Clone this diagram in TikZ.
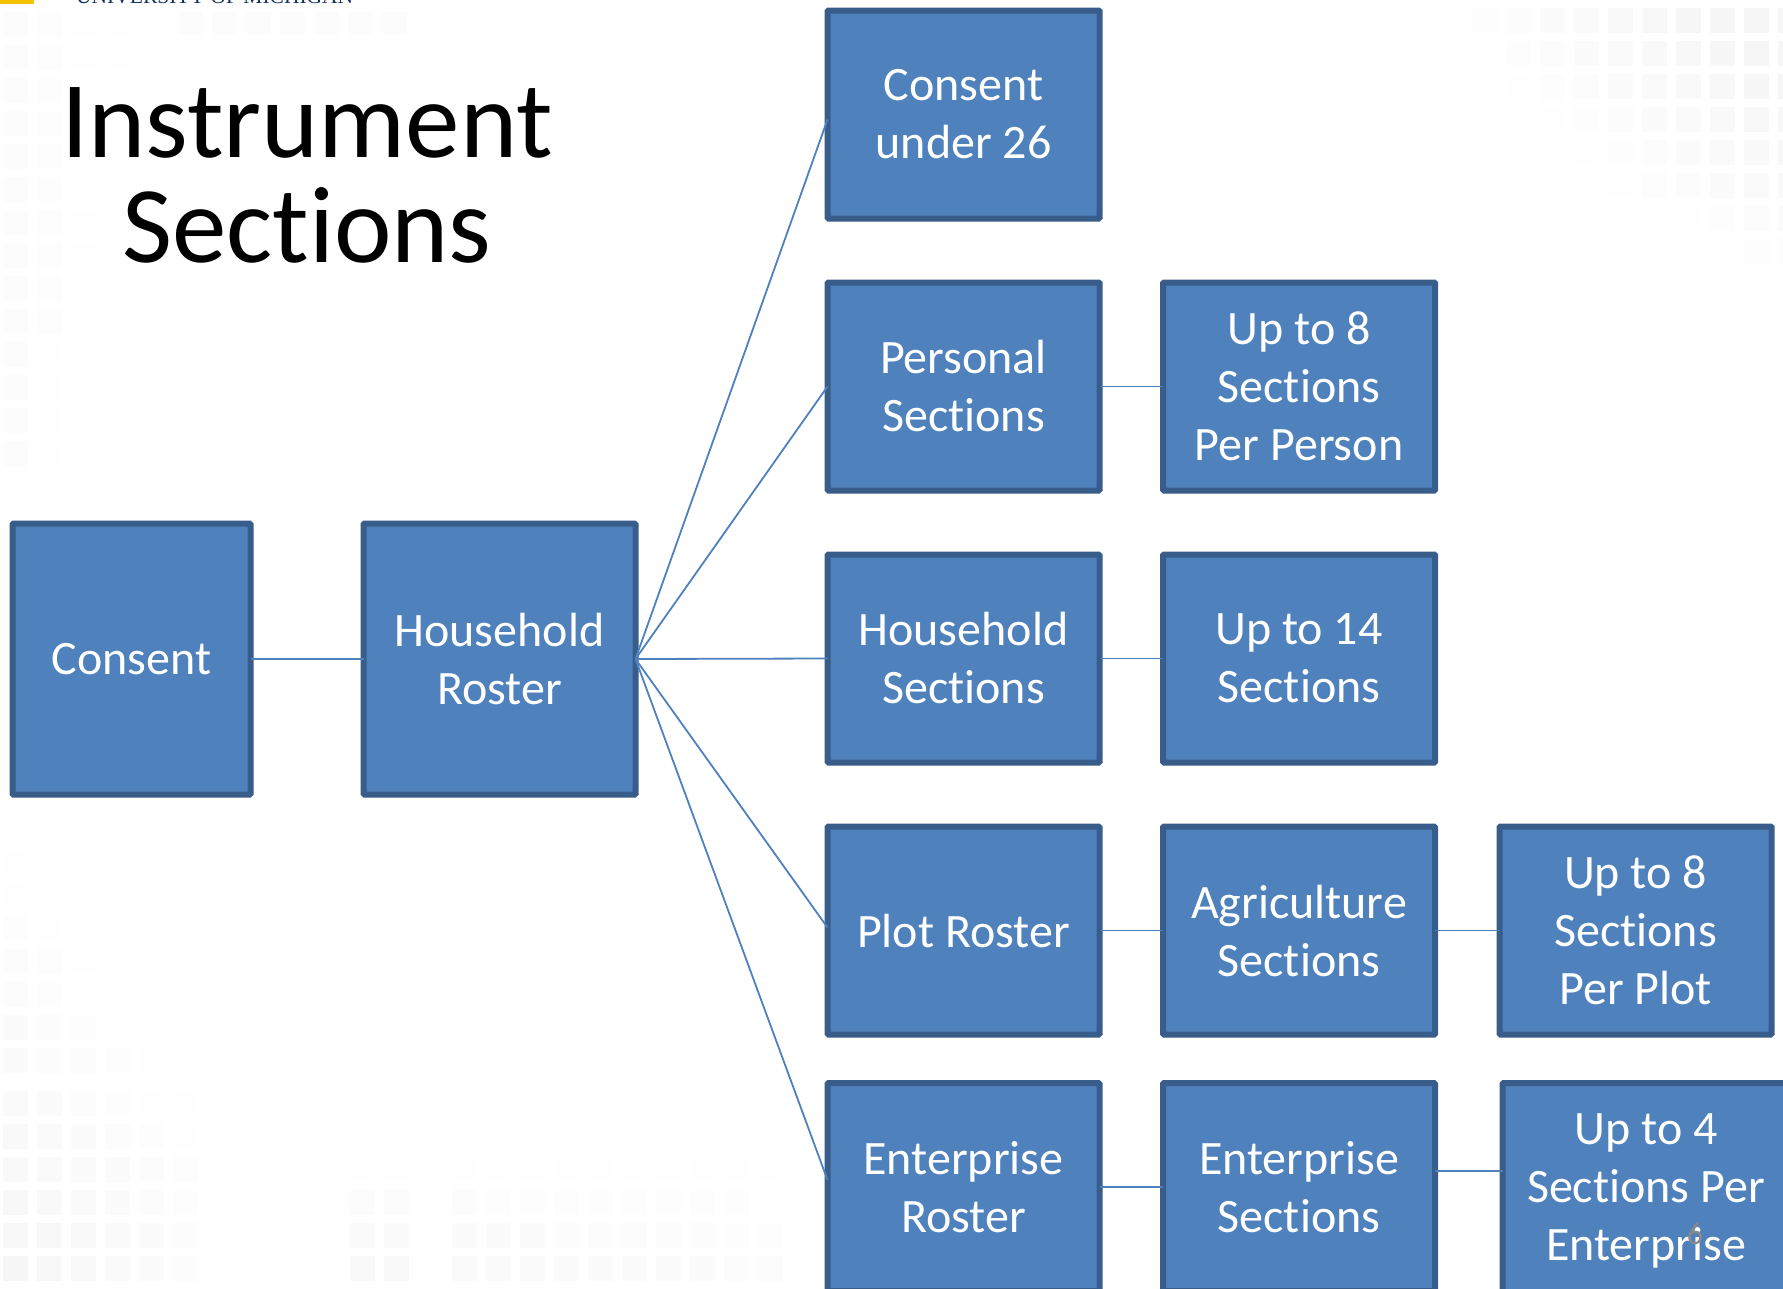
\documentclass[tikz,border=0pt]{standalone}
\usepackage{fontspec}
\setmainfont[Ligatures=NoCommon]{Carlito}
\newfontfamily\umfont{Liberation Serif}
\definecolor{boxfill}{HTML}{4F81BD}
\definecolor{boxedge}{HTML}{385D8A}
\definecolor{umblue}{HTML}{14305C}
\definecolor{umgold}{HTML}{F5C400}
\definecolor{numgrey}{HTML}{898989}
\tikzset{
  box/.style={draw=boxedge,fill=boxfill,line width=6pt,rounded corners=1pt,text=white,align=center,
    inner sep=0pt,outer sep=0pt,minimum width=#1,minimum height=208pt,font=\fontsize{48}{58}\selectfont},
  box/.default=272pt,
  link/.style={draw=boxfill,line width=1.8pt},
  cell/.style={fill=black,draw=none},
  titletext/.style={align=center,text=black,font=\fontsize{109}{105}\selectfont}
}
\begin{document}
\begin{tikzpicture}[x=1pt,y=-1pt]
\useasboundingbox (0,0) rectangle (1783,1288);
\clip (0,0) rectangle (1783,1288);
\fill[white] (0,0) rectangle (1783,1288);
% faint background pattern: top right, fading towards the slide centre
\foreach \x in {1370,1404,...,1780}{\foreach \y in {8,41,74,107,140,173,206,239}{
  \pgfmathsetmacro{\op}{max(0,min(.035,.035*(\x-1400-1.1*\y)/300))}
  \fill[cell,opacity=\op] (\x,\y) rectangle +(25,25);}}
% left edge, upper part
\foreach \x in {3,37,71,105}{\foreach \y in {12,45,78,111,144,177,210,243,276,309,342,375,408,441}{
  \pgfmathsetmacro{\op}{max(0,.012*(1-\x/(140-\y/5)))}
  \fill[cell,opacity=\op] (\x,\y) rectangle +(25,25);}}
\foreach \x in {178,212,246,280,314,348,382}{\fill[cell,opacity=.01] (\x,12) rectangle +(25,22);}
% left edge, lower part
\foreach \x in {3,37,71,105,139,173}{\foreach \y in {850,883,916,949,982,1015,1048,1091,1124,1157,1190,1223,1256}{
  \pgfmathsetmacro{\fr}{(\y-800)/456}
  \pgfmathsetmacro{\op}{max(0,.032*\fr*(1-\x/(300*\fr+1)))}
  \fill[cell,opacity=\op] (\x,\y) rectangle +(25,25);}}
% bottom centre
\foreach \x in {350,384,452,486,520,554,588,622,656,690,724,758}{\foreach \y in {1157,1190,1223,1256}{
  \pgfmathsetmacro{\op}{(\y-1130)/126*.024*(1-(\x-350)/800)}
  \fill[cell,opacity=\op] (\x,\y) rectangle +(25,25);}}
% header fragment
\fill[umgold] (0,0) rectangle (34,4);
\node[anchor=base west,inner sep=0pt,text=umblue,font=\umfont\fontsize{21.5}{22}\selectfont] (um) at (76,3) {UNIVERSITY OF MICHIGAN};
% title
\node[titletext] (title) at (307,175) {Instrument\\Sections};
% boxes
\node[box=238pt,minimum height=271pt] (consent) at (131.5,659) {Consent};
\node[box,minimum height=271pt] (roster) at (499.5,659) {Household\\Roster};
\node[box] (u26) at (963.5,114.5) {Consent\\under 26};
\node[box] (pers) at (963.5,386.5) {Personal\\Sections};
\node[box] (hh) at (963.5,658.5) {Household\\Sections};
\node[box] (plot) at (963.5,930.5) {Plot Roster};
\node[box] (ent) at (963.5,1187) {Enterprise\\Roster};
\node[box] (up8) at (1299,386.5) {Up to 8\\Sections\\Per Person};
\node[box] (up14) at (1299,658.5) {Up to 14\\Sections};
\node[box] (agri) at (1299,930.5) {Agriculture\\Sections};
\node[box] (entsec) at (1299,1187) {Enterprise\\Sections};
\node[box] (upplot) at (1635.5,930.5) {Up to 8\\Sections\\Per Plot};
\node[box=287pt,minimum height=215pt] (upent) at (1646,1190.5) {Up to 4\\Sections Per\\Enterprise};
% connectors
\draw[link] (consent.east) -- (roster.west);
\draw[link] (roster.east) -- ([yshift=-5pt]u26.west);
\draw[link] (roster.east) -- (pers.west);
\draw[link] (roster.east) -- (hh.west);
\draw[link] (roster.east) -- ([yshift=3pt]plot.west);
\draw[link] (roster.east) -- ([yshift=7pt]ent.west);
\draw[link] (pers.east) -- (up8.west);
\draw[link] (hh.east) -- (up14.west);
\draw[link] (plot.east) -- (agri.west);
\draw[link] (agri.east) -- (upplot.west);
\draw[link] (ent.east) -- (entsec.west);
\draw[link] ([yshift=16pt]entsec.east) -- ([yshift=19.5pt]upent.west);
% slide number
\node[text=numgrey,inner sep=0pt,font=\fontsize{32}{32}\selectfont] (num) at (1695,1234) {6};
\end{tikzpicture}
\end{document}
